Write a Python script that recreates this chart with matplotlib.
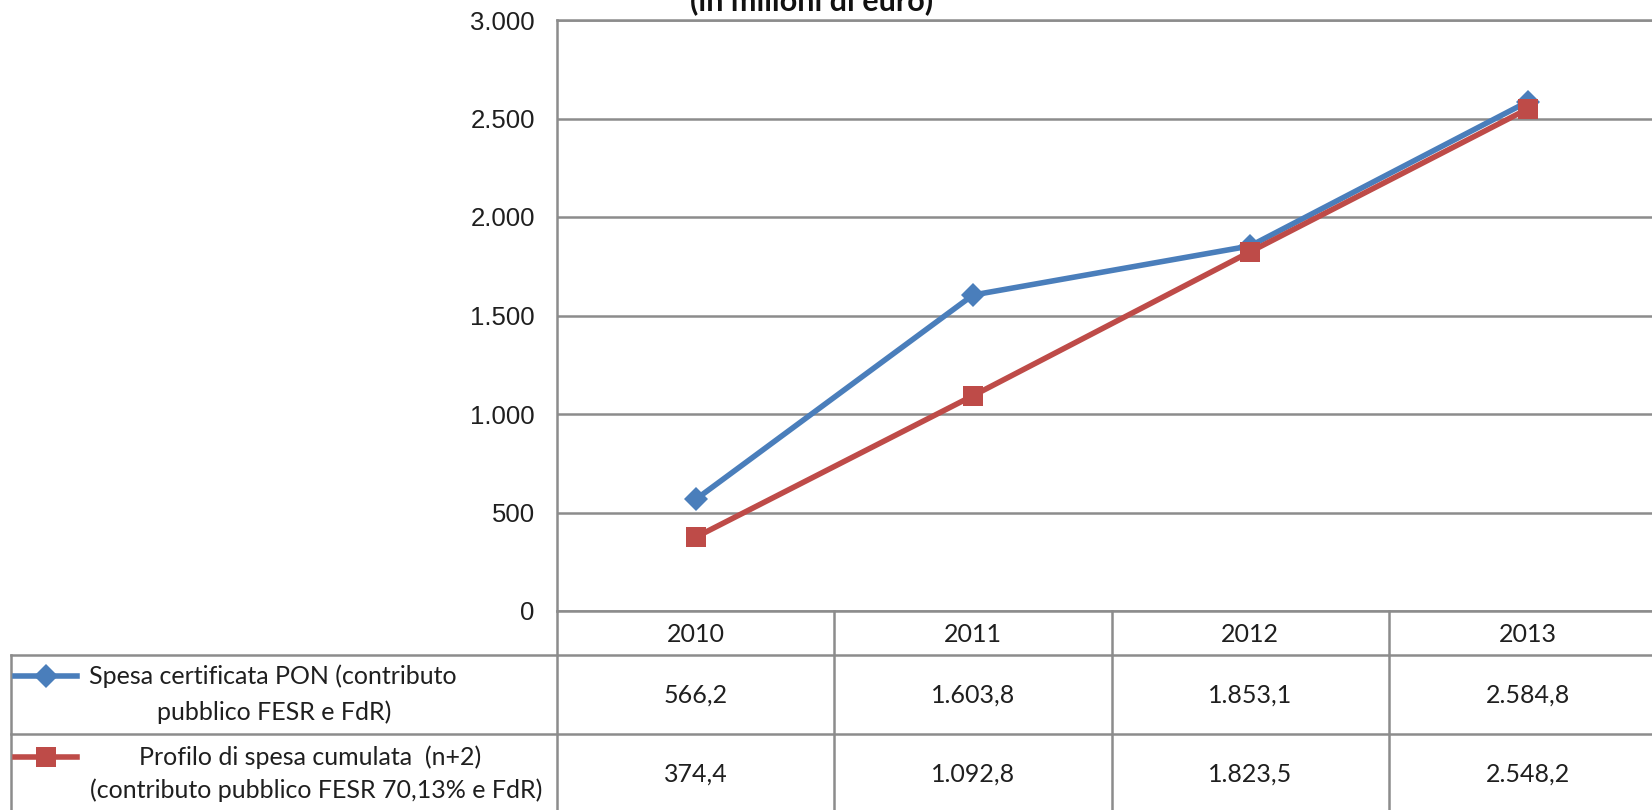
import matplotlib
matplotlib.use("Agg")
import matplotlib.pyplot as plt
from matplotlib.ticker import FuncFormatter

years = ["2010", "2011", "2012", "2013"]
spesa_certificata = [566.2, 1603.8, 1853.1, 2584.8]
profilo_spesa = [374.4, 1092.8, 1823.5, 2548.2]
label_certificata = ["Spesa certificata PON (contributo", "pubblico FESR e FdR)"]
label_profilo = ["Profilo di spesa cumulata  (n+2)", "(contributo pubblico FESR 70,13% e FdR)"]
title = "(in milioni di euro)"
yticks = [0, 500, 1000, 1500, 2000, 2500, 3000]

BLUE = "#4A7EBB"
RED = "#BE4B48"
GRID = "#8C8C8C"
TXT = "#1F1F1F"
W, H = 1652, 810
FONT = ["Lato", "DejaVu Sans"]
plt.rcParams["font.family"] = FONT
FS = 18


def fmt_it(v, decimals=1):
    s = f"{v:,.{decimals}f}"
    return s.replace(",", "X").replace(".", ",").replace("X", ".")


fig = plt.figure(figsize=(W / 100, H / 100), dpi=100)

# main plot area (pixel layout)
left, top, zero_y = 557, 20, 611
col_w = 277.3
right = left + col_w * len(years)
ax = fig.add_axes([left / W, 1 - zero_y / H, (right - left) / W, (zero_y - top) / H])
x = list(range(len(years)))
ax.set_xlim(-0.5, len(years) - 0.5)
ax.set_ylim(0, 3000)
ax.set_yticks(yticks)
ax.yaxis.set_major_formatter(FuncFormatter(lambda v, p: fmt_it(v, 0)))
ax.set_xticks([])
ax.tick_params(axis="y", length=0, pad=16, labelsize=FS, labelcolor=TXT)
for lab in ax.get_yticklabels():
    lab.set_fontfamily(["Liberation Sans", "DejaVu Sans"])
    lab.set_fontsize(18.5)
ax.grid(axis="y", color=GRID, linewidth=1.8)
ax.set_axisbelow(True)
for s in ["left", "top"]:
    ax.spines[s].set_color(GRID)
    ax.spines[s].set_linewidth(1.8)
for s in ["right", "bottom"]:
    ax.spines[s].set_visible(False)

ax.plot(x, spesa_certificata, color=BLUE, linewidth=4, marker="D",
        markersize=12, markeredgewidth=0, zorder=3)
ax.plot(x, profilo_spesa, color=RED, linewidth=4, marker="s",
        markersize=14, markeredgewidth=0, zorder=4)

# overlay for the data table in pixel coords
ov = fig.add_axes([0, 0, 1, 1], facecolor="none")
ov.set_xlim(0, W)
ov.set_ylim(H, 0)
ov.axis("off")


def px_x(i):
    disp = ax.transData.transform((i, 0))
    return disp[0] * W / fig.bbox.width


tab_left = 10.5
hdr_bot, row1_bot = 655, 734
lw = 1.8
ov.plot([left, W + 20], [zero_y, zero_y], color=GRID, lw=lw)
ov.plot([tab_left, W + 20], [hdr_bot, hdr_bot], color=GRID, lw=lw)
ov.plot([tab_left, W + 20], [row1_bot, row1_bot], color=GRID, lw=lw)
ov.plot([tab_left, tab_left], [hdr_bot, H + 10], color=GRID, lw=lw)
for i in range(len(years)):
    xb = px_x(i - 0.5)
    ov.plot([xb, xb], [zero_y, H + 10], color=GRID, lw=lw)

for i, yr in enumerate(years):
    cx = px_x(i)
    ov.text(cx, 634, yr, ha="center", va="center", fontsize=FS, color=TXT)
    ov.text(cx, 695, fmt_it(spesa_certificata[i]), ha="center", va="center", fontsize=FS, color=TXT)
    ov.text(cx, 774, fmt_it(profilo_spesa[i]), ha="center", va="center", fontsize=FS, color=TXT)

# legend keys
ov.plot([15, 77], [676, 676], color=BLUE, lw=4)
ov.plot([46], [676], marker="D", color=BLUE, markersize=12, markeredgewidth=0)
ov.plot([15, 77], [757, 757], color=RED, lw=4)
ov.plot([46], [757], marker="s", color=RED, markersize=14, markeredgewidth=0)

ov.text(273, 676, label_certificata[0], ha="center", va="center", fontsize=FS, color=TXT)
ov.text(274, 712, label_certificata[1], ha="center", va="center", fontsize=FS, color=TXT)
ov.text(310, 757, label_profilo[0], ha="center", va="center", fontsize=FS, color=TXT)
ov.text(316, 790, label_profilo[1], ha="center", va="center", fontsize=FS, color=TXT)

# title (partly cut off at top, as in the reference)
ov.text(812, 15, title, ha="center", va="bottom", fontsize=22, fontweight="bold", color="#111111")

fig.savefig("out.png", dpi=100)
